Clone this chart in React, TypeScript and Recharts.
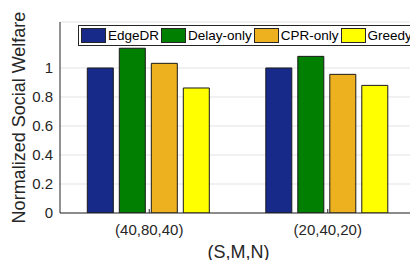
import { Bar, BarChart, CartesianGrid, XAxis, YAxis } from "recharts";

const groups = ["(40,80,40)", "(20,40,20)"];
const edgeDR = [1.0, 1.0];
const delayOnly = [1.136, 1.08];
const cprOnly = [1.032, 0.956];
const greedy = [0.862, 0.88];
const yTicks = [0, 0.2, 0.4, 0.6, 0.8, 1];

const series = [
  { key: "EdgeDR", color: "#172a8a", values: edgeDR },
  { key: "Delay-only", color: "#007f00", values: delayOnly },
  { key: "CPR-only", color: "#edb120", values: cprOnly },
  { key: "Greedy", color: "#ffff00", values: greedy },
];

const data = groups.map((g, i) => {
  const row: Record<string, string | number> = { group: g };
  series.forEach((s) => {
    row[s.key] = s.values[i];
  });
  return row;
});

const font = "'Liberation Sans', Arial, sans-serif";
const ink = "#262626";
const tickGap = 6;

function LegendBox() {
  return (
    <div
      style={{
        position: "absolute",
        left: 78,
        top: 25,
        display: "flex",
        alignItems: "center",
        border: "1px solid #262626",
        background: "#fff",
        padding: "2px 0 2px 2px",
        fontFamily: font,
        fontSize: 13.5,
        color: "#000",
        whiteSpace: "nowrap",
      }}
    >
      {series.map((s) => (
        <span key={s.key} style={{ display: "flex", alignItems: "center", marginRight: 2 }}>
          <span
            style={{
              display: "inline-block",
              width: 23,
              height: 13,
              background: s.color,
              border: "1px solid #262626",
              marginRight: 2,
            }}
          />
          {s.key}
        </span>
      ))}
    </div>
  );
}

function YLabel({ viewBox }: any) {
  const x = viewBox.x + 20;
  const y = viewBox.y + viewBox.height / 2;
  return (
    <text
      x={x}
      y={y}
      transform={`rotate(-90 ${x} ${y})`}
      textAnchor="middle"
      dominantBaseline="middle"
      fontFamily={font}
      fontSize={18}
      fill={ink}
    >
      Normalized Social Welfare
    </text>
  );
}

// bottom tick: label below, short inward mark above the axis
function BottomTick({ x, y, payload }: any) {
  const axisY = y - tickGap;
  return (
    <g>
      <line x1={x} x2={x} y1={axisY} y2={axisY - 4} stroke={ink} />
      <text x={x} y={y + 5} dy="0.71em" textAnchor="middle" fill={ink} fontSize={15} fontFamily={font}>
        {payload.value}
      </text>
    </g>
  );
}

function TopTick({ x, y }: any) {
  return <line x1={x} x2={x} y1={y} y2={y + 4} stroke={ink} />;
}

export default function App() {
  return (
    <div style={{ position: "fixed", left: 0, top: 0, width: 410, height: 260, overflow: "hidden", background: "#fff" }}>
      <BarChart
        width={430}
        height={260}
        data={data}
        margin={{ top: 22, right: 13, left: 0, bottom: 0 }}
        barCategoryGap="15.3%"
        barGap={6}
      >
        <CartesianGrid stroke="#e3e3e3" vertical={false} />
        <XAxis
          dataKey="group"
          height={47}
          tickLine={false}
          tickSize={0}
          tickMargin={tickGap}
          axisLine={{ stroke: ink }}
          tick={<BottomTick />}
          label={{ value: "(S,M,N)", position: "insideBottom", offset: 2, fill: ink, fontSize: 18, fontFamily: font }}
        />
        <XAxis
          xAxisId="top"
          orientation="top"
          dataKey="group"
          height={0}
          tickLine={false}
          tickSize={0}
          tickMargin={0}
          tick={<TopTick />}
          axisLine={{ stroke: ink }}
        />
        <YAxis
          width={60}
          domain={[0, 1.317]}
          ticks={yTicks}
          allowDataOverflow
          tickLine={false}
          tickSize={0}
          tickMargin={7}
          axisLine={{ stroke: ink }}
          tick={{ fill: ink, fontSize: 15, fontFamily: font }}
          tickFormatter={(v: number) => String(v)}
          label={<YLabel />}
        />
        {series.map((s) => (
          <Bar key={s.key} dataKey={s.key} fill={s.color} stroke="#1a1a1a" strokeWidth={1} isAnimationActive={false} />
        ))}
      </BarChart>
      <LegendBox />
    </div>
  );
}
